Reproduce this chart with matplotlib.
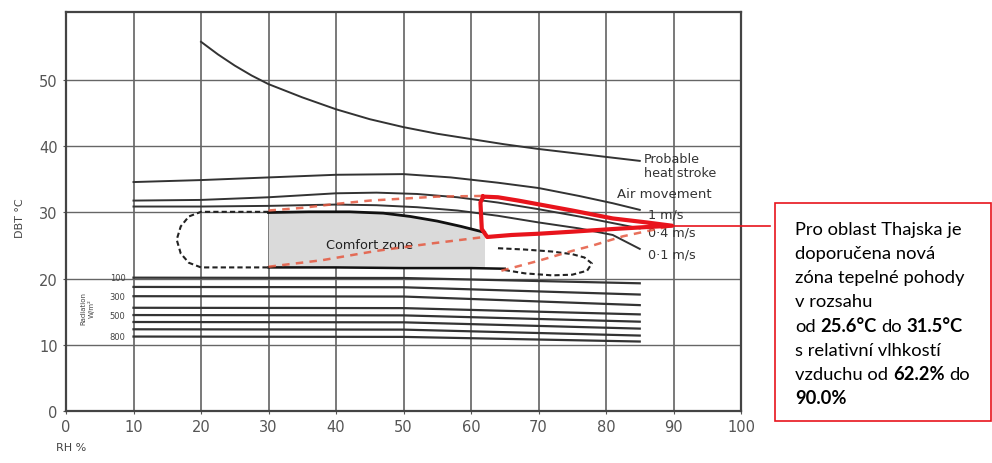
import numpy as np
import matplotlib
matplotlib.use('Agg')
import matplotlib.pyplot as plt
from matplotlib.patches import Rectangle

# --- data (RH %, DBT degC) ---
heat_rh = [20, 22.5, 25, 27.5, 30, 35, 40, 45, 50, 55, 60, 65, 70, 75, 80, 85]
heat_t = [55.8, 53.9, 52.2, 50.7, 49.4, 47.4, 45.6, 44.1, 42.9, 41.9, 41.1, 40.3, 39.6, 39.0, 38.4, 37.8]

air1_rh = [10, 20, 30, 40, 50, 57, 64, 70, 76, 81, 85]
air1_t = [34.6, 34.9, 35.3, 35.7, 35.8, 35.3, 34.5, 33.7, 32.5, 31.4, 30.4]
air2_rh = [10, 20, 30, 40, 46, 52, 58, 64, 70, 76, 81, 85]
air2_t = [31.8, 31.9, 32.3, 32.9, 33.0, 32.8, 32.3, 31.5, 30.5, 29.4, 28.4, 27.6]
air3_rh = [10, 20, 30, 40, 46, 52, 58, 64, 70, 76, 81, 85]
air3_t = [30.9, 30.9, 31.0, 31.2, 31.1, 30.8, 30.3, 29.5, 28.5, 27.6, 26.6, 24.5]
air_labels = ['1 m/s', '0·4 m/s', '0·1 m/s']

comf_top_rh = [30, 36, 42, 47, 51, 55, 58.5, 62]
comf_top_t = [30.0, 30.1, 30.1, 29.9, 29.4, 28.7, 27.9, 27.0]
comf_bot_rh = [30, 40, 50, 60, 65]
comf_bot_t = [21.7, 21.7, 21.6, 21.6, 21.5]

dash_left_rh = [30, 25, 20, 18.2, 17.0, 16.4, 17.0, 18.2, 20, 25, 30]
dash_left_t = [30.1, 30.1, 30.1, 29.4, 27.9, 25.9, 23.8, 22.4, 21.7, 21.7, 21.7]
dash_right_rh = [64, 68, 72, 75, 76.8, 77.9, 77.2, 75, 72, 68, 65]
dash_right_t = [24.6, 24.4, 24.1, 23.7, 23.2, 22.3, 21.2, 20.6, 20.5, 20.8, 21.3]

red_top_rh = [30, 35, 40, 45, 50, 55, 61.5]
red_top_t = [30.3, 30.7, 31.3, 31.8, 32.1, 32.4, 32.5]
red_mid_rh = [30, 38, 46, 54, 62]
red_mid_t = [21.8, 22.8, 24.2, 25.3, 26.3]
red_low_rh = [64.5, 70, 75, 78, 82.5, 89.8]
red_low_t = [21.2, 22.7, 24.2, 25.0, 26.4, 28.0]

zone_rh = [61.8, 64, 67, 70.2, 75, 81, 86, 89.8, 86, 81, 75, 70.2, 66, 62.4, 61.6, 61.4, 61.8]
zone_t = [32.4, 32.3, 31.8, 31.2, 30.3, 29.1, 28.5, 28.0, 27.8, 27.5, 27.1, 26.8, 26.6, 26.3, 27.5, 31.5, 32.4]

rad_rh = [10, 50, 85]
rad_t10 = [20.15, 18.75, 17.35, 15.6, 14.5, 13.45, 12.35, 11.25]
rad_t50 = [20.1, 18.7, 17.3, 15.55, 14.45, 13.4, 12.3, 11.2]
rad_t85 = [19.3, 17.6, 16.0, 14.6, 13.5, 12.45, 11.4, 10.5]
rad_labels = {0: '100', 2: '300', 4: '500', 7: '800'}

box_lines = [
    [('Pro oblast Thajska je', False)],
    [('doporučena nová', False)],
    [('zóna tepelné pohody', False)],
    [('v rozsahu', False)],
    [('od', False), ('25.6°C', True), ('do', False), ('31.5°C', True)],
    [('s relativní vlhkostí', False)],
    [('vzduchu od', False), ('62.2%', True), ('do', False)],
    [('90.0%', True)],
]

W, H = 992, 464
fig = plt.figure(figsize=(W / 100, H / 100), dpi=100)
ax = fig.add_axes([66 / W, 1 - 412 / H, (741 - 66) / W, (412 - 13) / H])
ax.set_xlim(0, 100)
ax.set_ylim(0, 60.3)

ink = '#333333'
for x in range(10, 100, 10):
    ax.axvline(x, color='#555555', lw=1.1, zorder=1)
for y in range(10, 60, 10):
    ax.axhline(y, color='#666666', lw=1.0, zorder=1)
for s in ax.spines.values():
    s.set_color('#444444')
    s.set_linewidth(1.6)

ax.set_xticks(range(0, 101, 10))
ax.set_yticks(range(0, 51, 10))
ax.tick_params(length=2, color='#555555', labelsize=10.5, labelcolor='#555555', pad=4)

# comfort zone shading
ax.fill_between(comf_top_rh, comf_top_t, np.interp(comf_top_rh, comf_bot_rh, comf_bot_t),
                color='#dadada', lw=0, zorder=2)
ax.plot(comf_top_rh, comf_top_t, color='#111111', lw=2.0, zorder=4)
ax.plot(comf_bot_rh, comf_bot_t, color='#111111', lw=1.8, zorder=4)
ax.plot(dash_left_rh, dash_left_t, color='#222222', lw=1.5, ls=(0, (2.5, 1.5)), zorder=4)
ax.plot(dash_right_rh, dash_right_t, color='#222222', lw=1.5, ls=(0, (2.5, 1.5)), zorder=4)
ax.text(45, 25.1, 'Comfort zone', fontsize=9.3, color='#222222', ha='center', va='center', zorder=5)

# heat stroke and air movement lines
ax.plot(heat_rh, heat_t, color=ink, lw=1.4, zorder=3)
ax.text(85.6, 38.1, 'Probable', fontsize=9.2, color=ink, va='center')
ax.text(85.6, 36.0, 'heat stroke', fontsize=9.2, color=ink, va='center')
ax.text(81.6, 32.9, 'Air movement', fontsize=9.5, color=ink, va='center')
for (rh, t), lab, ly in zip([(air1_rh, air1_t), (air2_rh, air2_t), (air3_rh, air3_t)],
                            air_labels, [29.8, 27.1, 23.8]):
    ax.plot(rh, t, color=ink, lw=1.4, zorder=3)
    ax.text(86.2, ly, lab, fontsize=9.2, color=ink, va='center')

# radiation lines
for i in range(len(rad_t10)):
    ax.plot(rad_rh, [rad_t10[i], rad_t50[i], rad_t85[i]], color=ink, lw=1.6, zorder=3)
    if i in rad_labels:
        ax.text(8.8, rad_t10[i], rad_labels[i], fontsize=6, color='#444444', ha='right', va='center')
ax.text(3.2, 15.6, 'Radiation\nW/m²', fontsize=5, color='#444444', rotation=90,
        ha='center', va='center', linespacing=1.1)

# red markings
ax.plot(red_top_rh, red_top_t, color='#e5583f', lw=1.8, ls=(0, (3, 2.5)), alpha=0.85, zorder=5)
ax.plot(red_mid_rh, red_mid_t, color='#e5583f', lw=1.8, ls=(0, (3, 2.5)), alpha=0.85, zorder=5)
ax.plot(red_low_rh, red_low_t, color='#e5583f', lw=1.8, ls=(0, (3, 2.5)), alpha=0.85, zorder=5)
ax.plot(zone_rh, zone_t, color='#e8141c', lw=3.0, solid_joinstyle='round', zorder=6)
ax.plot([zone_rh[7], 104.3], [zone_t[7], zone_t[7]], color='#e8141c', lw=1.2,
        clip_on=False, zorder=6)

ax.text(-1.5, -5.5, 'RH %', fontsize=8, color='#444444', ha='left', va='center')
fig.text(20 / W, 1 - 218 / H, 'DBT °C', fontsize=8, color='#444444', rotation=90,
         ha='center', va='center')

# annotation box
fig.patches.append(Rectangle((775 / W, 1 - 422 / H), 216 / W, 218 / H, transform=fig.transFigure,
                             facecolor='white', edgecolor='#e8141c', lw=1.2))
renderer = fig.canvas.get_renderer()
box_font = dict(fontsize=13.2, family='Lato', color='black')


def text_w(s, bold=False):
    t = fig.text(0, 0, s, fontweight='bold' if bold else 'normal', **box_font)
    w = t.get_window_extent(renderer).width
    t.remove()
    return w


space_w = text_w('x x') - text_w('xx')
for i, parts in enumerate(box_lines):
    x = 795
    y = 235 + 24.15 * i
    for txt, bold in parts:
        t = fig.text(x / W, 1 - y / H, txt, fontweight='bold' if bold else 'normal',
                     va='baseline', **box_font)
        x += t.get_window_extent(renderer).width + space_w

fig.savefig('out.png', dpi=100)
